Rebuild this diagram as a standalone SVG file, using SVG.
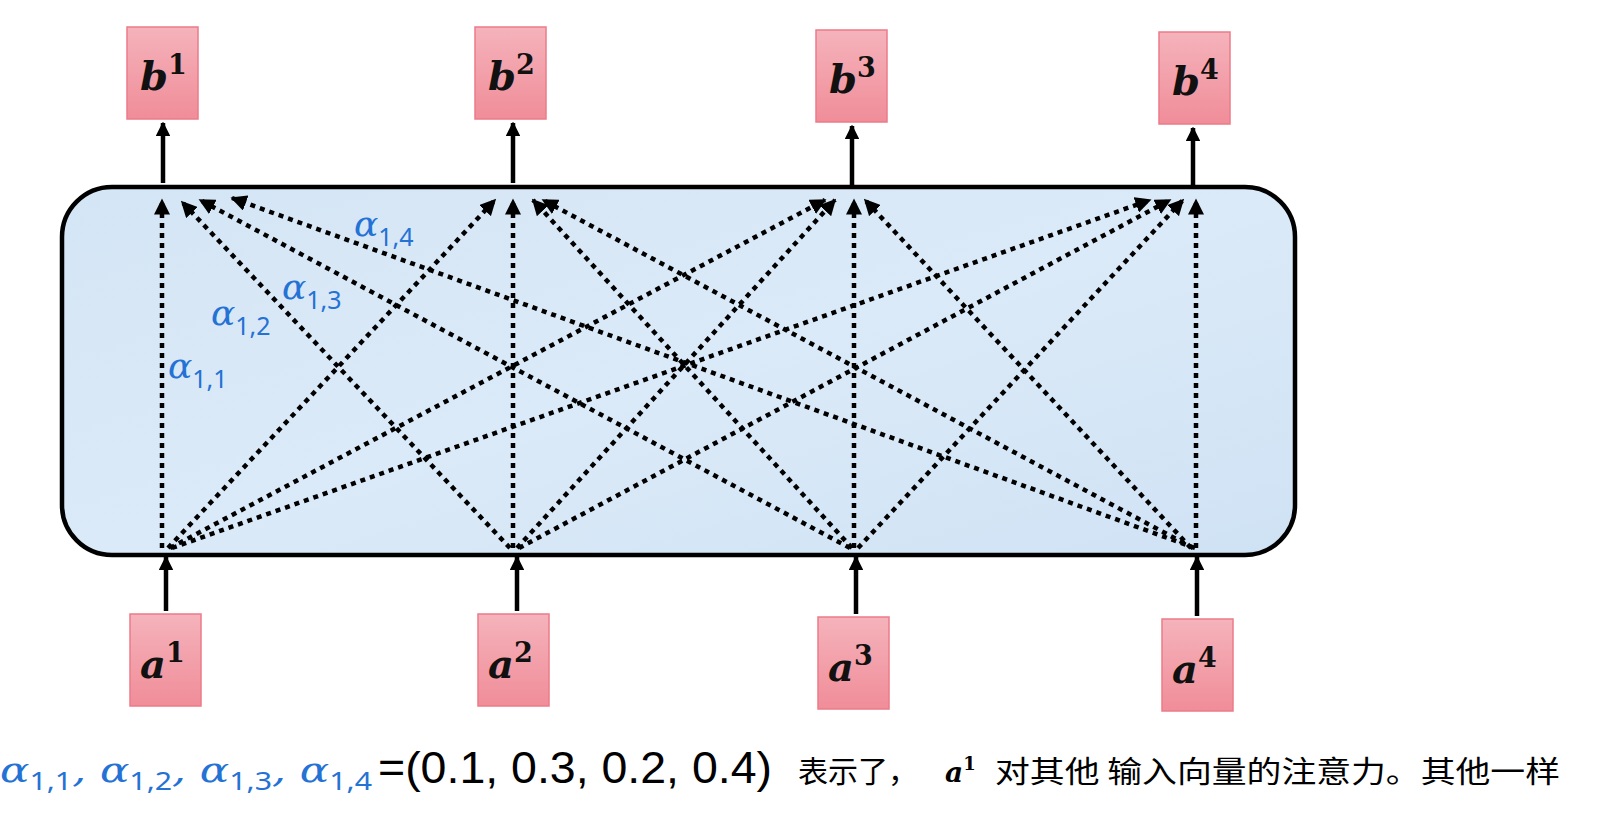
<svg xmlns="http://www.w3.org/2000/svg" width="1617" height="822" viewBox="0 0 1617 822">
<defs>
<linearGradient id="pk" x1="0" y1="0" x2="0" y2="1"><stop offset="0" stop-color="#f5b3bb"/><stop offset="1" stop-color="#f08d99"/></linearGradient>
<linearGradient id="bl" x1="0" y1="0" x2="1" y2="1"><stop offset="0" stop-color="#d4e5f5"/><stop offset="0.5" stop-color="#dbeaf8"/><stop offset="1" stop-color="#cfe2f4"/></linearGradient>
<marker id="ah" viewBox="0 0 10 10" refX="9" refY="5" markerWidth="3.6" markerHeight="3.6" orient="auto"><path d="M0,0L10,5L0,10z" fill="#000"/></marker>
<marker id="as" viewBox="0 0 10 10" refX="9" refY="5" markerWidth="3.2" markerHeight="3.2" orient="auto"><path d="M0,0L10,5L0,10z" fill="#000"/></marker>
</defs>
<style>
.nb{fill:url(#pk);stroke:#ec7b89;stroke-width:1.5}
.lb{font-family:"DejaVu Serif","Liberation Serif",serif;font-weight:bold;font-style:italic;font-size:40px;fill:#111}
.sup{font-size:27px;font-style:normal}
.d{stroke:#000;stroke-width:4.5;stroke-dasharray:5 5;fill:none;marker-end:url(#ah)}
.s{stroke:#000;stroke-width:4.5;fill:none;marker-end:url(#as)}
.al{font-family:"DejaVu Serif","Liberation Serif",serif;font-size:36px;fill:#2472d4;font-style:italic}
.sub{font-family:"Noto Sans","DejaVu Sans",sans-serif;font-size:25px;font-style:normal}
</style>
<rect x="62" y="187" width="1233" height="368" rx="50" fill="url(#bl)" stroke="#000" stroke-width="4.5"/>
<g id="connectors">
<path class="s" d="M163 183V123"/><path class="s" d="M513 183V123"/><path class="s" d="M852 185V126"/><path class="s" d="M1193 185V128"/>
<path class="s" d="M166 611V557"/><path class="s" d="M517 611V557"/><path class="s" d="M856 614V557"/><path class="s" d="M1197 616V557"/>
<path class="d" d="M162 548V200"/><path class="d" d="M168 548L495 200"/><path class="d" d="M170 548L825 200"/><path class="d" d="M172 548L1150 200"/>
<path class="d" d="M510 548L182 202"/><path class="d" d="M513 548V200"/><path class="d" d="M517 548L835 200"/><path class="d" d="M519 548L1170 200"/>
<path class="d" d="M850 548L200 200"/><path class="d" d="M852 548L533 200"/><path class="d" d="M854 548V200"/><path class="d" d="M858 548L1183 200"/>
<path class="d" d="M1195 548L232 198"/><path class="d" d="M1193 548L543 200"/><path class="d" d="M1191 548L865 200"/><path class="d" d="M1196 548V200"/>
</g>
<g id="b1"><rect class="nb" x="127" y="27" width="71" height="92"/><text class="lb" x="140" y="90">b<tspan class="sup" dy="-16">1</tspan></text></g>
<g id="b2"><rect class="nb" x="475" y="27" width="71" height="92"/><text class="lb" x="488" y="90">b<tspan class="sup" dy="-16">2</tspan></text></g>
<g id="b3"><rect class="nb" x="816" y="30" width="71" height="92"/><text class="lb" x="829" y="93">b<tspan class="sup" dy="-16">3</tspan></text></g>
<g id="b4"><rect class="nb" x="1159" y="32" width="71" height="92"/><text class="lb" x="1172" y="95">b<tspan class="sup" dy="-16">4</tspan></text></g>
<g id="a1"><rect class="nb" x="130" y="614" width="71" height="92"/><text class="lb" x="140" y="678">a<tspan class="sup" dy="-16">1</tspan></text></g>
<g id="a2"><rect class="nb" x="478" y="614" width="71" height="92"/><text class="lb" x="488" y="678">a<tspan class="sup" dy="-16">2</tspan></text></g>
<g id="a3"><rect class="nb" x="818" y="617" width="71" height="92"/><text class="lb" x="828" y="681">a<tspan class="sup" dy="-16">3</tspan></text></g>
<g id="a4"><rect class="nb" x="1162" y="619" width="71" height="92"/><text class="lb" x="1172" y="683">a<tspan class="sup" dy="-16">4</tspan></text></g>
<g id="labels">
<text class="al" x="354" y="236">α<tspan class="sub" dy="10">1,4</tspan></text>
<text class="al" x="282" y="299">α<tspan class="sub" dy="10">1,3</tspan></text>
<text class="al" x="211" y="325">α<tspan class="sub" dy="10">1,2</tspan></text>
<text class="al" x="168" y="378">α<tspan class="sub" dy="10">1,1</tspan></text>
</g>
<text class="al" x="0" y="782" font-size="40" textLength="372" lengthAdjust="spacingAndGlyphs">α<tspan class="sub" dy="8">1,1</tspan><tspan dy="-8">, α</tspan><tspan class="sub" dy="8">1,2</tspan><tspan dy="-8">, α</tspan><tspan class="sub" dy="8">1,3</tspan><tspan dy="-8">, α</tspan><tspan class="sub" dy="8">1,4</tspan></text>
<text x="378" y="783" font-family="Liberation Sans,sans-serif" font-size="44" textLength="394" lengthAdjust="spacingAndGlyphs">=(0.1, 0.3, 0.2, 0.4)</text>
<text x="798" y="782" font-family="Noto Sans CJK SC,sans-serif" font-size="30" textLength="120" lengthAdjust="spacingAndGlyphs">表示了，</text>
<text x="945" y="782" font-family="DejaVu Serif,serif" font-weight="bold" font-style="italic" font-size="28">a<tspan font-size="18" dy="-12" font-style="normal">1</tspan></text>
<text x="995" y="782" font-family="Noto Sans CJK SC,sans-serif" font-size="30" textLength="565" lengthAdjust="spacingAndGlyphs">对其他 输入向量的注意力。其他一样</text>
</svg>
